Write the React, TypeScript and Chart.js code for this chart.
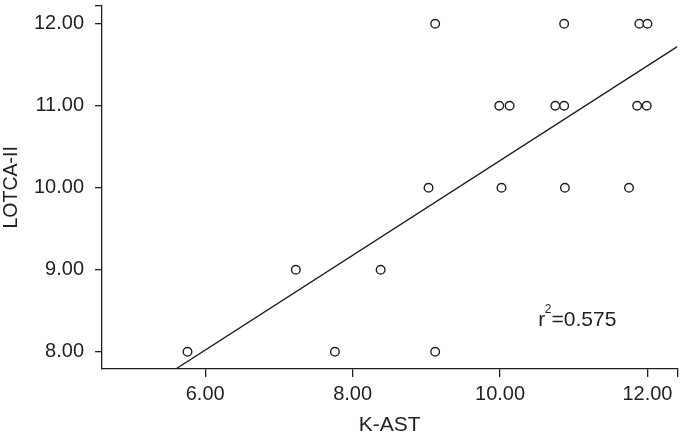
import React, { useEffect, useRef } from "react";
import { Chart, registerables } from "chart.js";

Chart.register(...registerables);

// K-AST (x) vs LOTCA-II (y)
const kast = [9.12, 10.87, 11.89, 12.0, 9.99, 10.13, 10.75, 10.87, 11.86, 11.99, 9.03, 10.02, 10.88, 11.75, 7.23, 8.38, 5.76, 7.76, 9.12];
const lotca = [12, 12, 12, 12, 11, 11, 11, 11, 11, 11, 10, 10, 10, 10, 9, 9, 8, 8, 8];

// regression line end points
const fitX = [5.6, 12.405];
const fitY = [7.79, 11.72];

const xTickValues = [6, 8, 10, 12];
const yTickValues = [8, 9, 10, 11, 12];
const xRange = [4.6, 12.405];
const yRange = [7.79, 12.22];

const r2Label = "0.575";
const r2Pos = [10.52, 8.32];

const FONT = '"Liberation Sans", Arial, Helvetica, sans-serif';
const INK = "#231f20";

const r2Plugin = {
  id: "r2text",
  afterDatasetsDraw(chart: any) {
    const { ctx, scales } = chart;
    const px = scales.x.getPixelForValue(r2Pos[0]);
    const py = scales.y.getPixelForValue(r2Pos[1]);
    ctx.save();
    ctx.fillStyle = INK;
    ctx.textAlign = "left";
    ctx.textBaseline = "alphabetic";
    ctx.font = `21px ${FONT}`;
    ctx.fillText("r", px, py);
    const rw = ctx.measureText("r").width;
    ctx.font = `12px ${FONT}`;
    ctx.fillText("2", px + rw - 0.5, py - 13);
    const sw = ctx.measureText("2").width;
    ctx.font = `21px ${FONT}`;
    ctx.fillText("=" + r2Label, px + rw + sw - 0.5, py);
    ctx.restore();
  },
};

export default function App() {
  const ref = useRef<HTMLCanvasElement | null>(null);
  useEffect(() => {
    if (!ref.current) return;
    const chart = new Chart(ref.current, {
      type: "scatter",
      data: {
        datasets: [
          {
            type: "line",
            data: fitX.map((x, i) => ({ x, y: fitY[i] })),
            borderColor: INK,
            borderWidth: 1.4,
            pointRadius: 0,
            fill: false,
          } as any,
          {
            data: kast.map((x, i) => ({ x, y: lotca[i] })),
            pointRadius: 4.3,
            pointBorderWidth: 1.4,
            pointBackgroundColor: "#fff",
            pointBorderColor: INK,
          },
        ],
      },
      options: {
        animation: false,
        responsive: true,
        maintainAspectRatio: false,
        layout: { padding: { top: 3, right: 0, left: 0, bottom: 0 } },
        plugins: { legend: { display: false }, tooltip: { enabled: false } },
        scales: {
          x: {
            type: "linear",
            min: xRange[0],
            max: xRange[1],
            afterBuildTicks: (s: any) => {
              s.ticks = [...xTickValues, xRange[1]].map((v) => ({ value: v }));
            },
            afterFit: (s: any) => {
              s.height = 69;
              s.paddingLeft = 0;
              s.paddingRight = 0;
            },
            ticks: {
              color: INK,
              font: { family: FONT, size: 20 },
              padding: 5,
              maxRotation: 0,
              autoSkip: false,
              callback: (v: any) => (xTickValues.includes(Number(v)) ? Number(v).toFixed(2) : ""),
            },
            grid: { drawOnChartArea: false, drawTicks: true, tickLength: 8, color: INK, lineWidth: 1.3 },
            border: { display: true, color: INK, width: 1.3 },
            title: { display: true, text: "K-AST", color: INK, font: { family: FONT, size: 21 }, padding: { top: 0, bottom: 0 } },
          },
          y: {
            type: "linear",
            min: yRange[0],
            max: yRange[1],
            afterBuildTicks: (s: any) => {
              s.ticks = [...yTickValues, yRange[1]].map((v) => ({ value: v }));
            },
            afterFit: (s: any) => {
              s.width = 102;
              s.paddingTop = 0;
              s.paddingBottom = 0;
            },
            ticks: {
              color: INK,
              font: { family: FONT, size: 20 },
              padding: 11,
              autoSkip: false,
              callback: (v: any) => (yTickValues.includes(Number(v)) ? Number(v).toFixed(2) : ""),
            },
            grid: { drawOnChartArea: false, drawTicks: true, tickLength: 7, color: INK, lineWidth: 1.3 },
            border: { display: true, color: INK, width: 1.3 },
            title: { display: true, text: "LOTCA-II", color: INK, font: { family: FONT, size: 19.5 }, padding: { top: 0, bottom: 0 } },
          },
        },
      },
      plugins: [r2Plugin],
    });
    return () => chart.destroy();
  }, []);
  return (
    <div style={{ position: "fixed", left: 0, top: 0, width: 683, height: 438, background: "#fff" }}>
      <canvas ref={ref} />
    </div>
  );
}
